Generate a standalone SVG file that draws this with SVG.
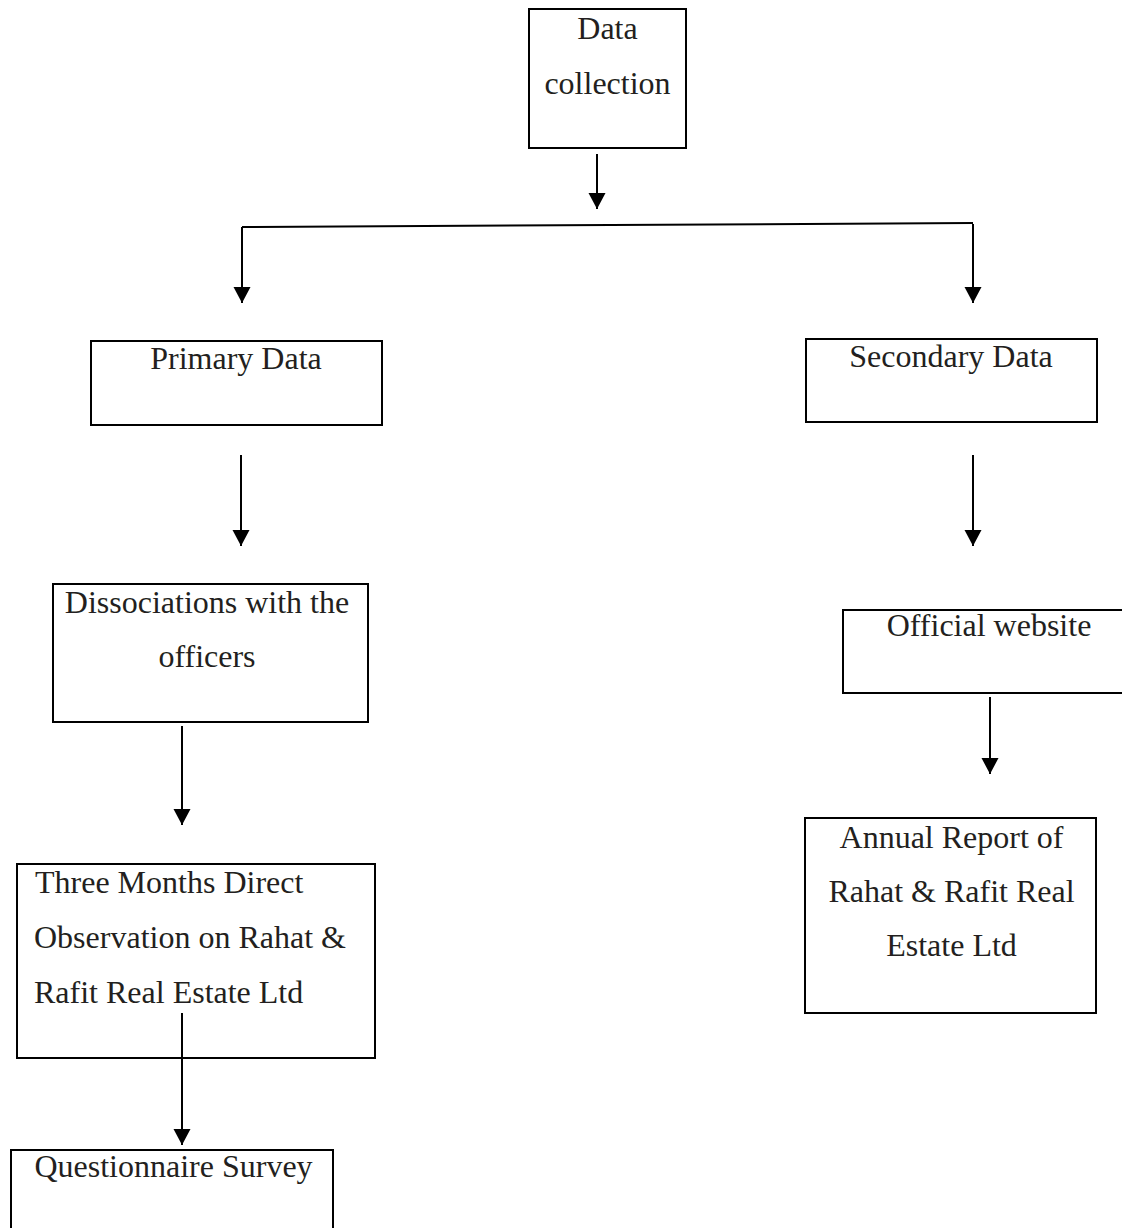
<svg xmlns="http://www.w3.org/2000/svg" width="1122" height="1228" viewBox="0 0 1122 1228">
<style>
.box{fill:#fff;stroke:#000;stroke-width:2}
.t{font-family:"Liberation Serif","Times New Roman",serif;font-size:32px;fill:#231f20}
.c{text-anchor:middle}
.ln{stroke:#000;stroke-width:2;fill:none}
</style>
<defs>
<marker id="ah" markerUnits="userSpaceOnUse" markerWidth="18" markerHeight="18" refX="16" refY="8.5" orient="auto">
<path d="M0,0 L16,8.5 L0,17 Z" fill="#000"/>
</marker>
</defs>
<rect width="1122" height="1228" fill="#fff"/>
<g id="connectors">
<path class="ln" d="M597,154 L597,209" marker-end="url(#ah)"/>
<path class="ln" d="M242,227 L973,223"/>
<path class="ln" d="M242,227 L242,303" marker-end="url(#ah)"/>
<path class="ln" d="M973,224 L973,303" marker-end="url(#ah)"/>
<path class="ln" d="M241,455 L241,546" marker-end="url(#ah)"/>
<path class="ln" d="M973,455 L973,546" marker-end="url(#ah)"/>
<path class="ln" d="M182,726 L182,825" marker-end="url(#ah)"/>
<path class="ln" d="M990,697 L990,774" marker-end="url(#ah)"/>
</g>
<g id="n-data-collection">
<rect class="box" x="529" y="9" width="157" height="139"/>
<text class="t c" x="607.5" y="39">Data</text>
<text class="t c" x="607.5" y="94">collection</text>
</g>
<g id="n-primary">
<rect class="box" x="91" y="341" width="291" height="84"/>
<text class="t c" x="236" y="369">Primary Data</text>
</g>
<g id="n-secondary">
<rect class="box" x="806" y="339" width="291" height="83"/>
<text class="t c" x="951" y="367">Secondary Data</text>
</g>
<g id="n-dissociations">
<rect class="box" x="53" y="584" width="315" height="138"/>
<text class="t c" x="207" y="613">Dissociations with the</text>
<text class="t c" x="207" y="667">officers</text>
</g>
<g id="n-official">
<rect class="box" x="843" y="610" width="300" height="83"/>
<text class="t c" x="989" y="636">Official website</text>
</g>
<g id="n-annual">
<rect class="box" x="805" y="818" width="291" height="195"/>
<text class="t c" x="951.5" y="848">Annual Report of</text>
<text class="t c" x="951.5" y="902">Rahat &amp; Rafit Real</text>
<text class="t c" x="951.5" y="956">Estate Ltd</text>
</g>
<g id="n-three-months">
<rect class="box" x="17" y="864" width="358" height="194"/>
<text class="t" x="35" y="893">Three Months Direct</text>
<text class="t" x="34" y="948">Observation on Rahat &amp;</text>
<text class="t" x="34" y="1003">Rafit Real Estate Ltd</text>
</g>
<g id="n-questionnaire">
<rect class="box" x="11" y="1150" width="322" height="100"/>
<text class="t c" x="173.5" y="1177">Questionnaire Survey</text>
</g>
<g id="connector-overlay">
<path class="ln" d="M182,1013 L182,1145" marker-end="url(#ah)"/>
</g>
</svg>
